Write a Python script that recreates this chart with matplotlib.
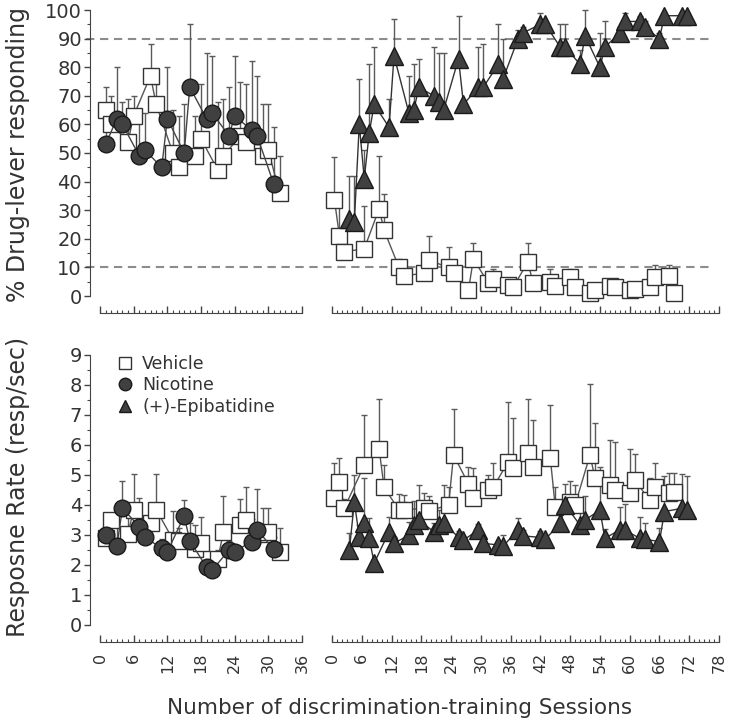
import matplotlib
matplotlib.use('Agg')
import matplotlib.pyplot as plt
from matplotlib.ticker import MultipleLocator
from matplotlib.transforms import blended_transform_factory
from matplotlib.lines import Line2D
import numpy as np

plt.rcParams['font.family'] = ['DejaVu Sans']

# ---- first training phase (nicotine vs vehicle), sessions 0-36 ----
veh_x_a = [1, 2, 5, 6, 9, 10, 13, 14, 17, 18, 21, 22, 25, 26, 29, 30, 32]
veh_drug_a = [65, 60, 54, 63, 77, 67, 50, 45, 49, 55, 44, 49, 56, 54, 49, 51, 36]
veh_drug_a_err = [8, 10, 15, 7, 11, 7, 15, 18, 14, 19, 24, 20, 19, 20, 18, 16, 13]
veh_rate_a = [2.9, 3.5, 3.05, 3.85, 3.4, 3.85, 2.85, 2.8, 2.55, 2.75, 2.2, 3.1, 3.35, 3.5, 3.05, 3.1, 2.45]
veh_rate_a_err = [0.8, 0.25, 0.6, 1.2, 0.35, 1.2, 0.95, 0.45, 0.8, 0.85, 0.3, 1.2, 0.85, 1.1, 0.85, 0.8, 0.8]

nic_x_a = [1, 3, 4, 7, 8, 11, 12, 15, 16, 19, 20, 23, 24, 27, 28, 31]
nic_drug_a = [53, 62, 60, 49, 51, 45, 62, 50, 73, 62, 64, 56, 63, 58, 56, 39]
nic_drug_a_err = [5, 18, 8, 15, 13, 0, 18, 17, 22, 23, 20, 17, 21, 24, 21, 20]
nic_rate_a = [3.0, 2.63, 3.89, 3.28, 2.92, 2.56, 2.44, 3.63, 2.81, 1.92, 1.83, 2.5, 2.45, 2.78, 3.17, 2.52]
nic_rate_a_err = [0.6, 1.1, 0.92, 0.95, 0.6, 0.3, 0.4, 0.55, 0.6, 0.1, 0.0, 0.3, 0.2, 0.75, 1.35, 0.4]

# ---- second training phase ((+)-epibatidine vs vehicle), sessions 0-78 ----
veh_x_b = [0.5, 1.5, 2.5, 6.5, 9.5, 10.5, 13.5, 14.5, 18.5, 19.5, 23.5, 24.5, 27.5, 28.5,
           31.5, 32.5, 35.5, 36.5, 39.5, 40.5, 44, 45, 48, 49, 52, 53, 56, 57, 60, 61,
           64, 65, 68, 69]
veh_drug_b = [33.5, 21, 15.5, 16.5, 30.5, 23, 10, 7, 8, 12.5, 10, 8, 2, 13, 4.5, 6, 4, 3,
              12, 4.5, 5, 3.5, 6.5, 3, 1, 2, 3.5, 3, 2, 2.5, 3, 6.5, 7, 1.2]
veh_drug_b_err = [15, 11, 0, 15, 18.5, 12.5, 3, 0, 1, 8.5, 7, 2, 0, 5.5, 1, 3.5, 0, 1,
                  6.5, 0, 4.5, 0, 3, 0, 0, 0, 0, 0, 0, 0, 1, 4.5, 4, 0]
veh_rate_b = [4.25, 4.78, 3.9, 5.33, 5.86, 4.59, 3.83, 3.83, 3.9, 3.8, 4.0, 5.67, 4.7, 4.22,
              4.5, 4.59, 5.44, 5.22, 5.74, 5.28, 5.56, 3.94, 4.1, 4.0, 5.67, 4.89, 4.67, 4.5,
              4.39, 4.83, 4.17, 4.59, 4.39, 4.44]
veh_rate_b_err = [1.15, 0.8, 0.3, 1.67, 1.66, 0.74, 0.54, 0.5, 0.5, 0.5, 0.6, 1.52, 0.58, 1.0,
                  0.5, 0.8, 2.0, 1.67, 1.78, 1.57, 1.78, 0.67, 0.7, 0.66, 2.37, 1.83, 1.5,
                  1.61, 1.47, 0.87, 0.72, 0.8, 0.67, 0.62]

epi_x_b = [3.5, 4.5, 5.5, 6.5, 7.5, 8.5, 11.5, 12.5, 15.5, 16.5, 17.5, 20.5, 21.5, 22.5,
           25.5, 26.5, 29.5, 30.5, 33.5, 34.5, 37.5, 38.5, 42, 43, 46, 47, 50, 51, 54, 55,
           58, 59, 62, 63, 66, 67, 70.5, 71.5]
epi_drug_b = [27, 26, 60, 41, 57, 67, 59, 84, 64, 65, 73, 70, 68, 65, 83, 67, 73, 73, 81, 76,
              90, 92, 95, 95, 87, 87, 81, 91, 80, 87, 92, 96, 96, 94, 90, 98, 98, 98]
epi_drug_b_err = [15, 16, 16, 10, 24, 20, 10, 13, 13, 16, 10, 17, 17, 20, 15, 0, 14, 15, 14, 14,
                  3, 2, 4, 1, 8, 8, 5, 9, 12, 9, 2, 3, 2, 2, 2, 1, 1, 1]
epi_rate_b = [2.5, 4.1, 2.94, 3.39, 2.9, 2.06, 3.11, 2.72, 3.0, 3.33, 3.5, 3.11, 3.33, 3.41,
              2.92, 2.83, 3.17, 2.72, 2.67, 2.63, 3.17, 2.97, 2.92, 2.86, 3.39, 4.0, 3.33, 3.5,
              3.83, 2.89, 3.17, 3.17, 2.89, 2.86, 2.78, 3.78, 3.89, 3.83]
epi_rate_b_err = [0.57, 0.9, 0.4, 1.5, 0.67, 0, 0.5, 0.2, 0.44, 0.8, 1.17, 0.3, 0.5, 1.27,
                  0.2, 0.1, 0.2, 0.1, 0.1, 0.37, 0.4, 0.2, 0.2, 0.1, 0.6, 0.7, 0.9, 0.8,
                  1.45, 0.3, 0.77, 0.85, 0.7, 0.55, 0.46, 1.2, 1.15, 1.15]

criteria = [10, 90]
legend_labels = ['Vehicle', 'Nicotine', '(+)-Epibatidine']

# marker styles for the three conditions
VEH = dict(marker='s', ms=11.5, mfc='white', mec='#333333', color='#555555')
NIC = dict(marker='o', ms=12, mfc='#404040', mec='#1a1a1a', color='#444444')
EPI = dict(marker='^', ms=13, mfc='#404040', mec='#1a1a1a', color='#333333')

AXIS_COLOR = '#444444'


def draw_series(ax, x, y, err, style):
    """Line + markers with one-sided (upper) error bars."""
    lower = np.zeros(len(err))
    ax.errorbar(x, y, yerr=[lower, err], fmt='none', ecolor='#5a5a5a', elinewidth=1,
                capsize=2.5, capthick=1, zorder=2, clip_on=False)
    ax.plot(x, y, lw=1, mew=1, zorder=3, clip_on=False, **style)


def style_axes(ax, xmax, ymax, ymajor, show_y, show_xlabels):
    ax.set_xlim(0, xmax)
    ax.set_ylim(0, ymax)
    ax.patch.set_visible(False)
    for side in ['top', 'right']:
        ax.spines[side].set_visible(False)
    ax.spines['bottom'].set_position(('outward', 12))
    ax.spines['bottom'].set_color(AXIS_COLOR)
    ax.xaxis.set_major_locator(MultipleLocator(6))
    ax.xaxis.set_minor_locator(MultipleLocator(1))
    ax.tick_params(axis='x', which='major', direction='in', length=5, width=1,
                   color=AXIS_COLOR, labelsize=11.5, labelrotation=90, pad=8,
                   labelcolor='#333333')
    ax.tick_params(axis='x', which='minor', direction='in', length=2.5, width=0.8,
                   color=AXIS_COLOR)
    if not show_xlabels:
        ax.tick_params(axis='x', labelbottom=False)

    if show_y:
        ax.spines['left'].set_position(('outward', 7))
        ax.spines['left'].set_color(AXIS_COLOR)
        ax.yaxis.set_major_locator(MultipleLocator(ymajor))
        ax.yaxis.set_minor_locator(MultipleLocator(ymajor / 2))
        ax.tick_params(axis='y', which='major', direction='out', length=4, width=1,
                       color=AXIS_COLOR, labelsize=14, pad=2, labelcolor='#333333')
        ax.tick_params(axis='y', which='minor', direction='out', length=2.5, width=0.8,
                       color=AXIS_COLOR)
    else:
        ax.spines['left'].set_visible(False)
        ax.tick_params(axis='y', which='both', left=False, labelleft=False)


def main():
    W, H = 733, 721
    fig = plt.figure(figsize=(W / 100, H / 100), dpi=100)

    def px_axes(x0, x1, ytop, ybot):
        return fig.add_axes([x0 / W, 1 - ybot / H, (x1 - x0) / W, (ybot - ytop) / H])

    ax_tl = px_axes(100, 302, 10, 296)
    ax_tr = px_axes(332, 719, 10, 296)
    ax_bl = px_axes(100, 302, 355, 625)
    ax_br = px_axes(332, 719, 355, 625)

    style_axes(ax_tl, 36, 100, 10, True, False)
    style_axes(ax_tr, 78, 100, 10, False, False)
    style_axes(ax_bl, 36, 9, 1, True, True)
    style_axes(ax_br, 78, 9, 1, False, True)

    # criterion lines spanning both segments of the top panel
    trans = blended_transform_factory(fig.transFigure, ax_tl.transData)
    for c in criteria:
        ax_tl.add_line(Line2D([86 / W, 714 / W], [c, c], transform=trans, color='#8c8c8c',
                              lw=1.5, linestyle=(0, (4, 2.7)), zorder=1, clip_on=False))

    # top: % drug-lever responding
    draw_series(ax_tl, veh_x_a, veh_drug_a, veh_drug_a_err, VEH)
    draw_series(ax_tl, nic_x_a, nic_drug_a, nic_drug_a_err, NIC)
    draw_series(ax_tr, veh_x_b, veh_drug_b, veh_drug_b_err, VEH)
    draw_series(ax_tr, epi_x_b, epi_drug_b, epi_drug_b_err, EPI)

    # bottom: response rate
    draw_series(ax_bl, veh_x_a, veh_rate_a, veh_rate_a_err, VEH)
    draw_series(ax_bl, nic_x_a, nic_rate_a, nic_rate_a_err, NIC)
    draw_series(ax_br, veh_x_b, veh_rate_b, veh_rate_b_err, VEH)
    draw_series(ax_br, epi_x_b, epi_rate_b, epi_rate_b_err, EPI)

    handles = []
    for st in (VEH, NIC, EPI):
        handles.append(Line2D([], [], linestyle='none', marker=st['marker'], ms=9,
                              mfc=st['mfc'], mec=st['mec'], mew=1))
    ax_bl.legend(handles, legend_labels, loc='upper left', bbox_to_anchor=(0.08, 1.0),
                 frameon=False, fontsize=12.5, handlelength=1.0, handletextpad=0.5,
                 labelspacing=0.2, borderpad=0, borderaxespad=0, labelcolor='#333333')

    fig.text(18 / W, 1 - 155 / H, '% Drug-lever responding', rotation=90,
             ha='center', va='center', fontsize=17, color='#333333')
    fig.text(18 / W, 1 - 487 / H, 'Resposne Rate (resp/sec)', rotation=90,
             ha='center', va='center', fontsize=17, color='#333333')
    fig.text(400 / W, 1 - 708 / H, 'Number of discrimination-training Sessions',
             ha='center', va='center', fontsize=15.5, color='#333333')

    fig.savefig('out.png', dpi=100, facecolor='white')
    plt.close(fig)


if __name__ == "__main__":
    main()
